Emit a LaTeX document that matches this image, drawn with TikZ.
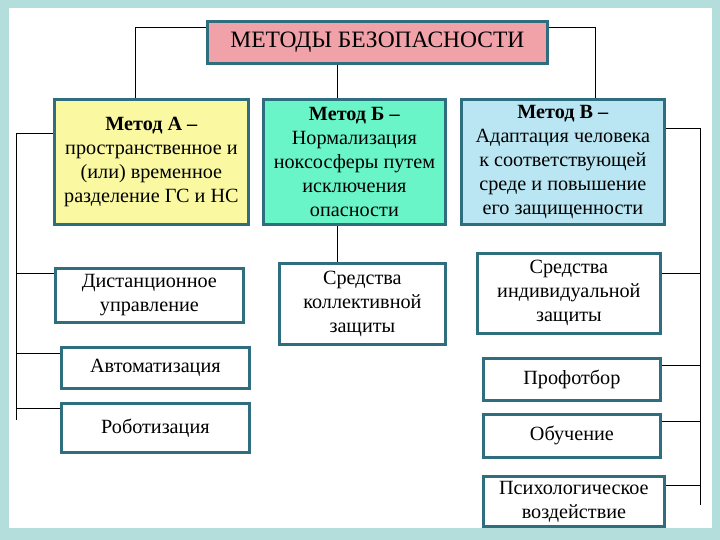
\documentclass[tikz,border=0pt]{standalone}
\usepackage{fontspec}
\setmainfont{Liberation Serif}
\usetikzlibrary{shadows}
\definecolor{framec}{HTML}{B4DEDC}
\definecolor{edgec}{HTML}{2F6E7E}
\definecolor{pinkc}{HTML}{F0A2A8}
\definecolor{yellowc}{HTML}{FBF8A2}
\definecolor{aquac}{HTML}{6AF5C8}
\definecolor{bluec}{HTML}{B9E6F2}
\tikzset{
  box/.style={draw=edgec, line width=2.8pt, fill=white, anchor=north west,
    align=center, inner sep=0pt,
    drop shadow={shadow xshift=1.5pt, shadow yshift=-1.5pt, opacity=.4},
    font=\fontsize{20.2}{24}\selectfont},
  link/.style={draw=black, line width=0.9pt}
}
\begin{document}
\begin{tikzpicture}[x=1pt,y=-1pt]
\useasboundingbox (0,0) rectangle (720,540);
\fill[framec] (0,0) rectangle (720,540);
\fill[white] (9,8) rectangle (712,528);

% nodes
\node[box, fill=pinkc, minimum width=340pt, minimum height=42pt,
      font=\fontsize{23.5}{27}\selectfont] (title) at (206,20) {МЕТОДЫ БЕЗОПАСНОСТИ};
\node[box, fill=yellowc, minimum width=194pt, minimum height=125pt] (A) at (53,98)
  {\textbf{Метод А –}\\пространственное и\\(или) временное\\разделение ГС и НС};
\node[box, fill=aquac, minimum width=182pt, minimum height=125pt] (B) at (262,98)
  {\textbf{Метод Б –}\\Нормализация\\ноксосферы путем\\исключения\\опасности};
\node[box, fill=bluec, minimum width=203pt, minimum height=125pt] (C) at (460,98)
  {\textbf{Метод В –}\\Адаптация человека\\к соответствующей\\среде и повышение\\его защищенности};

\node[box, minimum width=188pt, minimum height=54pt] (dist) at (54,267) {Дистанционное\\управление};
\node[box, minimum width=188pt, minimum height=41pt] (avto) at (60,346) {Автоматизация};
\node[box, minimum width=188pt, minimum height=49pt] (robo) at (60,402) {Роботизация};

\node[box, minimum width=166pt, minimum height=81pt] (kol) at (278,262) {Средства\\коллективной\\защиты};

\node[box, minimum width=183pt, minimum height=80pt] (ind) at (476,252) {Средства\\индивидуальной\\защиты};
\node[box, minimum width=177pt, minimum height=42pt] (prof) at (482,357) {Профотбор};
\node[box, minimum width=177pt, minimum height=43pt] (obuch) at (482,413) {Обучение};
\node[box, minimum width=181pt, minimum height=50pt] (psych) at (482,475) {Психологическое\\воздействие};

% trunk coordinates
\coordinate (tl) at (135,27);
\coordinate (tr) at (595,27);
\coordinate (mid) at (337,0);
\coordinate (ltop) at (16,133);
\coordinate (lbot) at (16,420);
\coordinate (rtop) at (700,128);
\coordinate (rbot) at (700,505);

% connectors
\draw[link] (title.west |- tl) -- (tl) -- (A.north -| tl);
\draw[link] (title.east |- tr) -- (tr) -- (C.north -| tr);
\draw[link] (title.south -| mid) -- (B.north -| mid);
\draw[link] (B.south -| mid) -- (kol.north -| mid);

\draw[link] (A.west |- ltop) -- (ltop) -- (lbot);
\draw[link] (dist.west |- 0,273) -- (ltop |- 0,273);
\draw[link] (avto.west |- 0,353) -- (ltop |- 0,353);
\draw[link] (robo.west |- 0,408) -- (ltop |- 0,408);

\draw[link] (C.east |- rtop) -- (rtop) -- (rbot);
\draw[link] (ind.east |- 0,273) -- (rtop |- 0,273);
\draw[link] (prof.east |- 0,365) -- (rtop |- 0,365);
\draw[link] (obuch.east |- 0,421) -- (rtop |- 0,421);
\draw[link] (psych.east |- 0,485) -- (rtop |- 0,485);
\end{tikzpicture}
\end{document}
